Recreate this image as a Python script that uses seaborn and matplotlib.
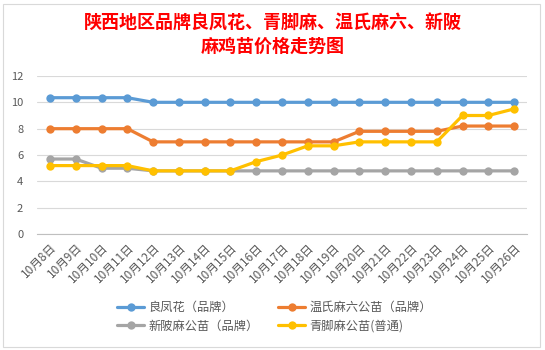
import matplotlib
matplotlib.use("Agg")
import matplotlib.pyplot as plt
import seaborn as sns
import pandas as pd
from matplotlib.lines import Line2D
from matplotlib.patches import Rectangle

dates = ["10月8日", "10月9日", "10月10日", "10月11日", "10月12日", "10月13日", "10月14日",
         "10月15日", "10月16日", "10月17日", "10月18日", "10月19日", "10月20日", "10月21日",
         "10月22日", "10月23日", "10月24日", "10月25日", "10月26日"]
liangfenghua = [10.35, 10.35, 10.35, 10.35, 10.0, 10.0, 10.0, 10.0, 10.0, 10.0, 10.0, 10.0,
                10.0, 10.0, 10.0, 10.0, 10.0, 10.0, 10.0]
wenshi = [8.0, 8.0, 8.0, 8.0, 7.0, 7.0, 7.0, 7.0, 7.0, 7.0, 7.0, 7.0,
          7.8, 7.8, 7.8, 7.8, 8.2, 8.2, 8.2]
xinpi = [5.7, 5.7, 5.0, 5.0, 4.8, 4.8, 4.8, 4.8, 4.8, 4.8, 4.8, 4.8,
         4.8, 4.8, 4.8, 4.8, 4.8, 4.8, 4.8]
qingjiao = [5.2, 5.2, 5.2, 5.2, 4.8, 4.8, 4.8, 4.8, 5.5, 6.0, 6.7, 6.7,
            7.0, 7.0, 7.0, 7.0, 9.0, 9.0, 9.5]
series_names = ["良凤花（品牌）", "温氏麻六公苗（品牌）", "新陂麻公苗（品牌）", "青脚麻公苗(普通)"]
series_values = [liangfenghua, wenshi, xinpi, qingjiao]
colors = ["#5B9BD5", "#ED7D31", "#A5A5A5", "#FFC000"]
title = "陕西地区品牌良凤花、青脚麻、温氏麻六、新陂\n麻鸡苗价格走势图"

rows = []
for name, vals in zip(series_names, series_values):
    for i, v in enumerate(vals):
        rows.append({"idx": i, "date": dates[i], "price": v, "series": name})
df = pd.DataFrame(rows)

sns.set_theme(style="white")
plt.rcParams["font.family"] = ["Noto Sans CJK SC", "DejaVu Sans"]

fig = plt.figure(figsize=(5.45, 3.5), dpi=100)
fig.patch.set_facecolor("white")
ax = fig.add_axes([0.068, 0.331, 0.899, 0.452])

sns.lineplot(data=df, x="idx", y="price", hue="series", hue_order=series_names,
             palette=colors, marker="o", markersize=6, markeredgewidth=0,
             linewidth=2.3, sort=False, ax=ax, legend=False)

ax.set_xlim(-0.5, len(dates) - 0.5)
ax.set_ylim(0, 12)
ax.set_yticks(range(0, 13, 2))
ax.set_yticklabels([str(v) for v in range(0, 13, 2)], fontsize=8, color="#595959")
ax.set_xticks(range(len(dates)))
ax.set_xticklabels(dates, rotation=45, ha="right", rotation_mode="anchor",
                   fontsize=8.5, color="#595959")
ax.set_xticks([i - 0.5 for i in range(len(dates) + 1)], minor=True)
ax.tick_params(axis="x", which="major", length=0, pad=5)
ax.tick_params(axis="x", which="minor", length=4, color="#BFBFBF", width=0.8, direction="out")
ax.tick_params(axis="y", length=0, pad=10)
ax.grid(axis="y", color="#D9D9D9", linewidth=0.8)
ax.set_axisbelow(True)
for s in ["top", "right", "left"]:
    ax.spines[s].set_visible(False)
ax.spines["bottom"].set_color("#BFBFBF")
ax.spines["bottom"].set_linewidth(0.8)
ax.set_xlabel("")
ax.set_ylabel("")

fig.text(0.5, 0.90, title, ha="center", va="center", color="#FF0000",
         fontsize=13, fontweight="bold", linespacing=1.3)

order = [0, 2, 1, 3]
handles = [Line2D([0], [0], color=colors[i], linewidth=2.3, marker="o", markersize=6,
                  markeredgewidth=0) for i in order]
labels = [series_names[i] for i in order]
leg = fig.legend(handles, labels, ncol=2, loc="upper left", bbox_to_anchor=(0.215, 0.14),
                 frameon=False, fontsize=8.8, handlelength=2.2, columnspacing=1.6,
                 labelspacing=0.45, handletextpad=0.35, borderpad=0, borderaxespad=0)
for t in leg.get_texts():
    t.set_color("#595959")

fig.patches.append(Rectangle((0.006, 0.01), 0.985, 0.98, transform=fig.transFigure,
                             fill=False, edgecolor="#D9D9D9", linewidth=0.8))

fig.savefig("out.png", dpi=100)
